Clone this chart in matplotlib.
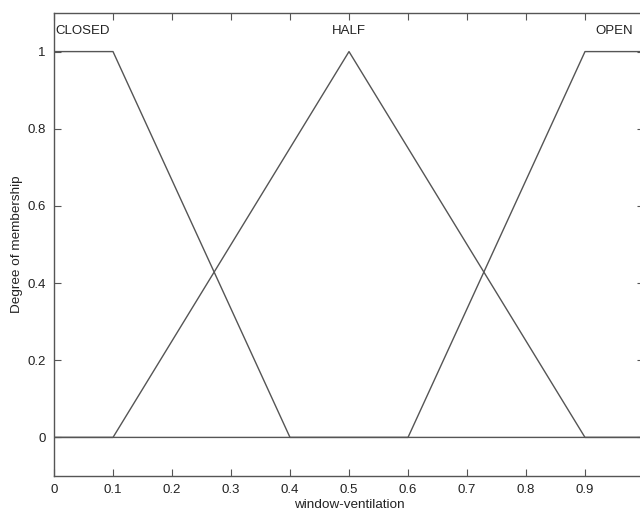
import numpy as np
import matplotlib
matplotlib.use("Agg")
import matplotlib.pyplot as plt

plt.rcParams['font.family'] = ['Liberation Sans', 'DejaVu Sans']

# membership functions for window ventilation
mf_names = ["CLOSED", "HALF", "OPEN"]
mf_x = [[0.0, 0.1, 0.4, 1.0],
        [0.0, 0.1, 0.5, 0.9, 1.0],
        [0.0, 0.6, 0.9, 1.0]]
mf_y = [[1.0, 1.0, 0.0, 0.0],
        [0.0, 0.0, 1.0, 0.0, 0.0],
        [0.0, 0.0, 1.0, 1.0]]
label_x = [0.048, 0.5, 0.95]
label_y = 1.053

xticks = [0, 0.1, 0.2, 0.3, 0.4, 0.5, 0.6, 0.7, 0.8, 0.9, 1.0]
# the label at 1 sits past the figure edge, so it is left blank
xticklabels = ["0", "0.1", "0.2", "0.3", "0.4", "0.5", "0.6", "0.7", "0.8", "0.9", ""]
yticks = [0, 0.2, 0.4, 0.6, 0.8, 1]
yticklabels = ["0", "0.2", "0.4", "0.6", "0.8", "1"]

fig = plt.figure(figsize=(6.4, 5.11), dpi=100)
ax = fig.add_axes([54/640, 35/511, 590/640, 463/511])

lc = "#555555"
for xs, ys in zip(mf_x, mf_y):
    ax.plot(xs, ys, color=lc, lw=1.0)
for name, lx in zip(mf_names, label_x):
    ax.text(lx, label_y, name, ha="center", va="center", fontsize=9.5, color="#222222")

ax.set_xlim(0, 1)
ax.set_ylim(-0.1, 1.1)
ax.set_xticks(xticks)
ax.set_xticklabels(xticklabels)
ax.set_yticks(yticks)
ax.set_yticklabels(yticklabels)
ax.tick_params(direction="in", top=True, right=True, length=5, width=0.8,
               color="#555555", labelsize=9.5, labelcolor="#222222", pad=6)
for s in ax.spines.values():
    s.set_color("#555555")
    s.set_linewidth(1.0)

ax.set_xlabel("window-ventilation", fontsize=9.7, color="#222222", labelpad=2)
ax.set_ylabel("Degree of membership", fontsize=9.7, color="#222222", labelpad=3)

fig.savefig("out.png", dpi=100)
